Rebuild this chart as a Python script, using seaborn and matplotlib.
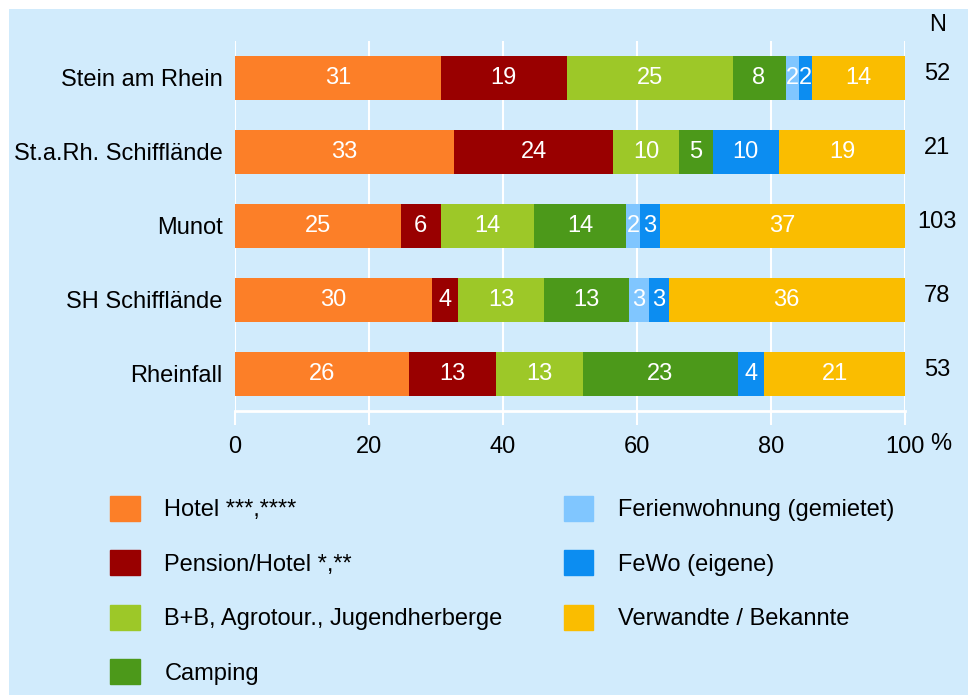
import seaborn as sns
import matplotlib.pyplot as plt
import matplotlib.patches as mpatches
import matplotlib.transforms as mtrans
import numpy as np

sites = ["Stein am Rhein", "St.a.Rh. Schifflände", "Munot", "SH Schifflände", "Rheinfall"]
categories = ["Hotel ***,****", "Pension/Hotel *,**", "B+B, Agrotour., Jugendherberge",
              "Camping", "Ferienwohnung (gemietet)", "FeWo (eigene)", "Verwandte / Bekannte"]
hotel = [31, 33, 25, 30, 26]
pension = [19, 24, 6, 4, 13]
bnb = [25, 10, 14, 13, 13]
camping = [8, 5, 14, 13, 23]
fewo_miet = [2, 0, 2, 3, 0]
fewo_eigen = [2, 10, 3, 3, 4]
verwandte = [14, 19, 37, 36, 21]
n_values = [52, 21, 103, 78, 53]
colors = ["#FC7F28", "#990000", "#9DC828", "#4C991A", "#80C6FF", "#0C8DF1", "#FABD00"]
ticks = [0, 20, 40, 60, 80, 100]

bg = "#D1EBFC"
plt.rcParams['font.family'] = ['Liberation Sans', 'DejaVu Sans']
fs = 17

vals = np.array([hotel, pension, bnb, camping, fewo_miet, fewo_eigen, verwandte], dtype=float).T
pct = vals / vals.sum(axis=1, keepdims=True) * 100
cum = pct.cumsum(axis=1)

fig = plt.figure(figsize=(9.68, 6.95), dpi=100)
fig.patch.set_facecolor("white")
fig.patches.append(mpatches.Rectangle((9 / 968, 0), 1, 1 - 9 / 695, transform=fig.transFigure,
                                      facecolor=bg, edgecolor="none", zorder=-1))

ax = fig.add_axes([235 / 968, 1 - 411 / 695, 670 / 968, 370 / 695])
ax.set_facecolor(bg)
ax.patch.set_alpha(0)

# stacked bars: draw cumulative totals from the back to the front
for j in range(len(categories) - 1, -1, -1):
    sns.barplot(x=cum[:, j], y=sites, color=colors[j], orient="h", width=0.6,
                saturation=1, linewidth=0, ax=ax, zorder=2)

for i in range(len(sites)):
    for j in range(len(categories)):
        v = int(vals[i, j])
        if v > 0:
            ax.text(cum[i, j] - pct[i, j] / 2, i, str(v), ha="center", va="center",
                    color="white", fontsize=fs, zorder=3)
    ax.text(104.8, i - 0.05, str(n_values[i]), ha="center", va="center",
            fontsize=fs, clip_on=False)
ax.text(104.8, -0.72, "N", ha="center", va="center", fontsize=fs, clip_on=False)

ax.set_xlim(0, 100)
ax.set_ylim(4.5, -0.5)
ax.set_xticks(ticks)
ax.set_xticklabels([str(t) for t in ticks])
ax.set_xlabel("")
ax.set_ylabel("")
trans = mtrans.blended_transform_factory(ax.transData, ax.transAxes)
ax.text(103.7, -0.089, "%", ha="left", va="center", fontsize=fs, transform=trans, clip_on=False)

ax.grid(axis="x", color="white", linewidth=1.5, zorder=0)
ax.set_axisbelow(True)
for s in ["top", "right", "left"]:
    ax.spines[s].set_visible(False)
ax.spines["bottom"].set_color("white")
ax.spines["bottom"].set_linewidth(2)
ax.tick_params(axis="x", colors="white", length=10, width=1.5, pad=8, labelsize=fs,
               labelcolor="black")
ax.tick_params(axis="y", length=0, pad=9, labelsize=fs, labelcolor="black")

handles = [mpatches.Patch(color=c, label=l) for c, l in zip(colors, categories)]
fig.legend(handles=handles, ncol=2, loc="upper left", bbox_to_anchor=(110 / 968, 1 - 496 / 695),
           frameon=False, fontsize=fs, borderpad=0, borderaxespad=0, handlelength=1.25,
           handleheight=1.25, handletextpad=1.05, labelspacing=1.23, columnspacing=2.6)

fig.savefig("out.png", dpi=100, facecolor="white")
